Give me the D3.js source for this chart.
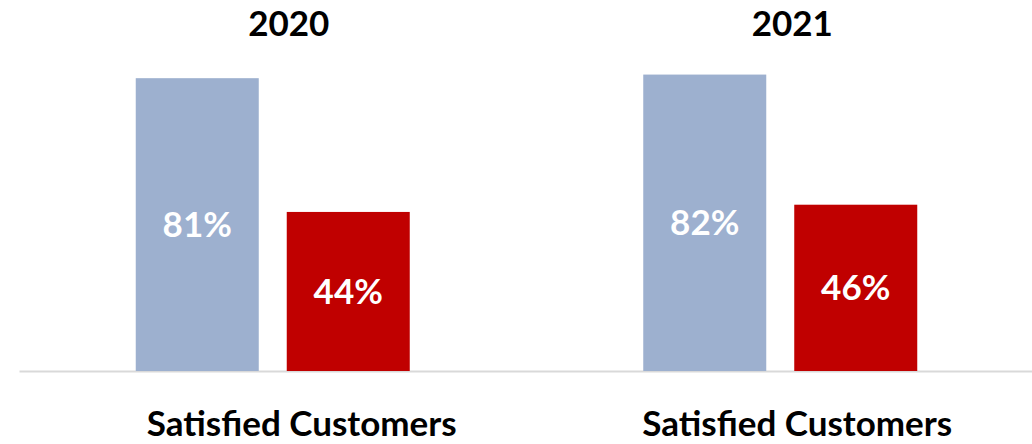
<!DOCTYPE html>
<html>
<head>
<meta charset="utf-8">
<script src="https://cdn.jsdelivr.net/npm/d3@7"></script>
<style>
  html, body { margin: 0; padding: 0; background: #ffffff; }
  svg { display: block; }
  text { font-family: Lato, "Open Sans", sans-serif; font-weight: 700; }
</style>
</head>
<body>
<div id="chart"></div>
<script>
// Yearly survey results: share of satisfied customers, two series per year
const years = ["2020", "2021"];
const categoryLabel = "Satisfied Customers";
const seriesKeys = ["first", "second"];
const firstValues = [81, 82];
const secondValues = [44, 46];
const seriesColors = ["#9DB0CF", "#C00000"];

const width = 1032, height = 444;
const baseline = 371;

const svg = d3.select("#chart").append("svg")
  .attr("width", width)
  .attr("height", height);

// One band per year, spanning the plot area
const x0 = d3.scaleBand()
  .domain(years)
  .range([19, 1034]);

// Two bars inside each year band
const groupInner = 274;
const innerStart = (x0.bandwidth() - groupInner) / 2;
const x1 = d3.scaleBand()
  .domain(seriesKeys)
  .range([innerStart, innerStart + groupInner])
  .paddingInner(0.1854);

const y = d3.scaleLinear()
  .domain([0, 100])
  .range([baseline, baseline - 361.5]);

const rows = years.map((yr, i) => ({
  year: yr,
  values: [
    { key: seriesKeys[0], value: firstValues[i] },
    { key: seriesKeys[1], value: secondValues[i] }
  ]
}));

const color = d3.scaleOrdinal().domain(seriesKeys).range(seriesColors);

// Category axis line
const axis = d3.axisBottom(x0).tickSize(0).tickFormat("");
svg.append("g")
  .attr("transform", `translate(0,${baseline})`)
  .call(axis)
  .call(g => g.select(".domain").attr("stroke", "#D9D9D9").attr("stroke-width", 2));

const groups = svg.append("g").selectAll("g")
  .data(rows)
  .join("g")
  .attr("transform", d => `translate(${x0(d.year)},0)`);

groups.selectAll("rect")
  .data(d => d.values)
  .join("rect")
  .attr("x", d => x1(d.key))
  .attr("y", d => y(d.value))
  .attr("width", x1.bandwidth())
  .attr("height", d => y(0) - y(d.value))
  .attr("fill", d => color(d.key));

// Value labels centred in each bar
groups.selectAll("text.value")
  .data(d => d.values)
  .join("text")
  .attr("class", "value")
  .attr("x", d => x1(d.key) + x1.bandwidth() / 2)
  .attr("y", d => (y(d.value) + y(0)) / 2)
  .attr("dy", "0.35em")
  .attr("text-anchor", "middle")
  .attr("fill", "#ffffff")
  .attr("font-size", 35)
  .text(d => d.value + "%");

// Year titles
const titleShift = [16, 12];
svg.append("g").selectAll("text")
  .data(years)
  .join("text")
  .attr("x", (d, i) => x0(d) + x0.bandwidth() / 2 + titleShift[i])
  .attr("y", 36)
  .attr("text-anchor", "middle")
  .attr("fill", "#000000")
  .attr("font-size", 35)
  .text(d => d);

// Category labels under each group
const labelShift = [29, 17];
svg.append("g").selectAll("text")
  .data(years)
  .join("text")
  .attr("x", (d, i) => x0(d) + x0.bandwidth() / 2 + labelShift[i])
  .attr("y", 436)
  .attr("text-anchor", "middle")
  .attr("fill", "#000000")
  .attr("font-size", 35)
  .text(categoryLabel);
</script>
</body>
</html>
